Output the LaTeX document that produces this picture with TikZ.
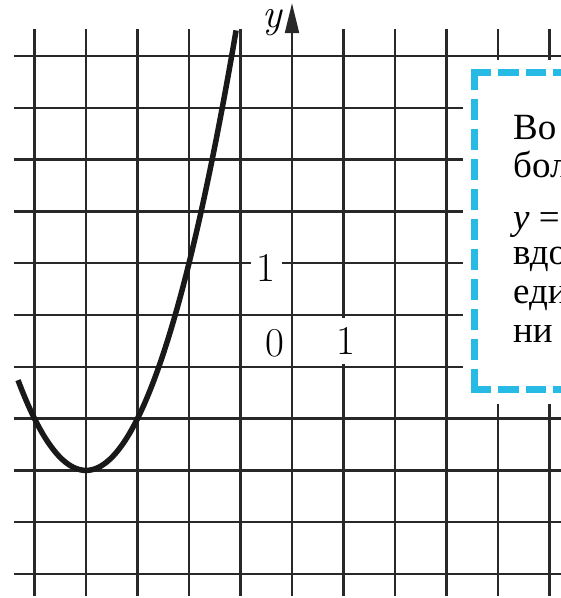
\documentclass[tikz,border=0pt]{standalone}
\usepackage{fontspec}
\newfontfamily\cyrfont{Liberation Serif}
\usetikzlibrary{arrows.meta}
\definecolor{gridc}{RGB}{40,40,40}
\definecolor{curvec}{RGB}{25,25,25}
\definecolor{boxc}{RGB}{38,186,228}
\begin{document}
\begin{tikzpicture}[x=1pt,y=-1pt,
  gridline/.style={line width=2.3pt, draw=gridc},
  lbl/.style={font=\fontsize{41}{45}\selectfont, inner sep=0pt, text=black},
  boxtext/.style={font=\cyrfont\fontsize{37}{40}\selectfont, anchor=base west, inner sep=0pt, text=black},
  boxedge/.style={draw=boxc, line width=7pt, line cap=rect}]
\useasboundingbox (0,0) rectangle (561,598);
\clip (0,0) rectangle (561,598);
\begin{scope}[shift={(292pt,-315pt)}, x=51.5pt, y=51.8pt]
  \foreach \i in {-5,...,5} {\ifnum\i=0\relax\else\draw[gridline] (\i,-5.42) -- (\i,5.52);\fi}
  \foreach \j in {-5,...,5} {\draw[gridline] (-5.4,\j) -- (5.6,\j);}
  \draw[gridline, -{Triangle[length=30pt,width=14pt]}] (0,-5.42) -- (0,6.02);
  \draw[line width=5.5pt, draw=curvec] plot[domain=-5.32:-1.085, samples=120, smooth] (\x, {(\x+4)^2-3});
  \node[lbl, fill=white, inner xsep=6pt, inner ysep=3pt] (oney) at (-0.5,0.907) {1};
  \node[lbl] (zero) at (-0.33,-0.54) {0};
  \node[lbl, fill=white, inner xsep=2pt, inner ysep=9.5pt] (onex) at (1.05,-0.5) {1};
  \node[lbl] (ylab) at (-0.39,5.65) {\itshape y};
\end{scope}
\fill[white] (463,60) rectangle (575,404);
\draw[boxedge, dash pattern=on 14pt off 16pt] (474,72) -- (474,389);
\draw[boxedge, dash pattern=on 13.5pt off 14pt] (474,72) -- (620,72);
\draw[boxedge, dash pattern=on 13.5pt off 14pt] (474,389) -- (620,389);
\node[boxtext] (t1) at (513,139) {Во};
\node[boxtext] (t2) at (513,177) {бол};
\node[boxtext] (t3) at (513,229) {{\itshape y} =};
\node[boxtext] (t4) at (513,264) {вдо};
\node[boxtext] (t5) at (513,303) {еди};
\node[boxtext] (t6) at (513,342) {ни};
\end{tikzpicture}
\end{document}
